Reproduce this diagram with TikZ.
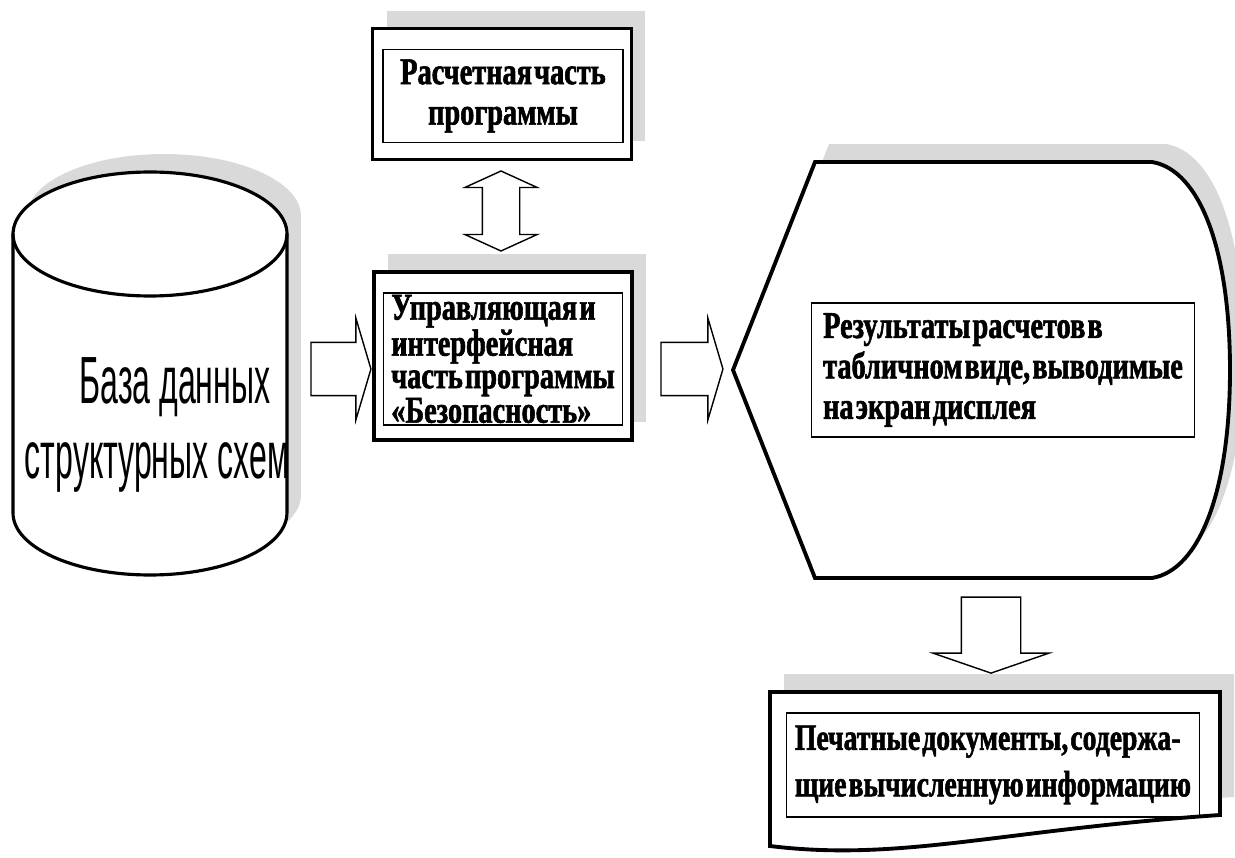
\documentclass[tikz,border=0pt]{standalone}
\usepackage{fontspec}
\setmainfont{Liberation Serif}
\newfontfamily\squeezeserif[FakeStretch=0.75, WordSpace=0.3, FakeBold=1.5]{Liberation Serif}
\newfontfamily\squeezesans[FakeStretch=0.48]{Liberation Sans}
\usetikzlibrary{shapes.arrows,shadows}

\tikzset{
  grayshadow/.style={drop shadow={shadow xshift=0.28cm, shadow yshift=0.36cm, fill=gray!30, opacity=1}},
  outerbox/.style={draw, line width=2.2pt, fill=white, inner sep=0pt, grayshadow},
  textbox/.style 2 args={draw, line width=0.6pt, inner sep=0pt, font=\squeezeserif\bfseries\fontsize{#1}{#2}\selectfont},
  blockarrow/.style={draw, line width=0.8pt, fill=white, inner xsep=0pt}
}

\begin{document}
\begin{tikzpicture}[x=0.02cm, y=-0.02cm]
  \useasboundingbox (0,0) rectangle (1235,858);

  % database cylinder
  \draw[line width=1.8pt, fill=white, grayshadow] (13,234) -- (13,513)
    arc[start angle=180, end angle=360, x radius=2.74cm, y radius=1.24cm] -- (287,234)
    arc[start angle=0, end angle=180, x radius=2.74cm, y radius=1.24cm] -- cycle;
  \draw[line width=1.8pt] (13,234) arc[start angle=180, end angle=360, x radius=2.74cm, y radius=1.24cm];
  \node[font=\squeezesans\fontsize{38pt}{43pt}\selectfont, align=center] (db) at (166,425) {\hspace*{0.36cm}База данных\\структурных схем\hspace*{0.36cm}};

  % program parts
  \node[outerbox, minimum width=5.18cm, minimum height=2.62cm] (calcframe) at (502,94) {};
  \node[textbox={21.5pt}{23pt}, minimum width=4.8cm, minimum height=1.86cm, align=center] (calc) at (503,96) {Расчетная часть\\программы};

  \node[outerbox, minimum width=5.16cm, minimum height=3.36cm] (ctrlframe) at (503,356) {};
  \node[textbox={21.5pt}{18.5pt}, minimum width=4.78cm, minimum height=2.64cm, align=left] (ctrl) at (503,359)
    {Управляющая и\\интерфейсная\\часть программы\\«Безопасность»};

  % display
  \draw[line width=2.2pt, fill=white, grayshadow] (733,370) -- (815,162) -- (1152,162)
    .. controls (1200,170) and (1230,250) .. (1230,370)
    .. controls (1230,490) and (1200,570) .. (1152,578) -- (815,578) -- cycle;
  \node[textbox={21.5pt}{23pt}, minimum width=7.68cm, minimum height=2.68cm, align=left] (disp) at (1003,370)
    {Результаты расчетов в\\табличном виде, выводимые\\на экран дисплея};

  % printed documents
  \draw[line width=2.2pt, fill=white, grayshadow] (770,692) -- (1220,692) -- (1220,815)
    .. controls (1000,830) and (900,862) .. (770,846) -- cycle;
  \node[textbox={21pt}{26.5pt}, minimum width=8.28cm, minimum height=2.08cm, align=left] (doc) at (993,765)
    {Печатные документы, содержа-\\щие вычисленную информацию};

  % block arrows
  \node[blockarrow, double arrow, rotate=90, double arrow head extend=0.35cm, double arrow tip angle=131, inner ysep=0.36cm, minimum height=1.6cm] (calcctrl) at (501,211) {};
  \node[blockarrow, single arrow, single arrow head extend=0.48cm, single arrow tip angle=147, inner ysep=0.52cm, minimum height=1.2cm] (dbctrl) at (337,369) {};
  \node[blockarrow, single arrow, single arrow head extend=0.48cm, single arrow tip angle=147, inner ysep=0.52cm, minimum height=1.24cm] (ctrldisp) at (688,369) {};
  \node[blockarrow, single arrow, rotate=-90, single arrow head extend=0.57cm, single arrow tip angle=142, inner ysep=0.58cm, minimum height=1.52cm] (dispdoc) at (991,630) {};
\end{tikzpicture}
\end{document}
